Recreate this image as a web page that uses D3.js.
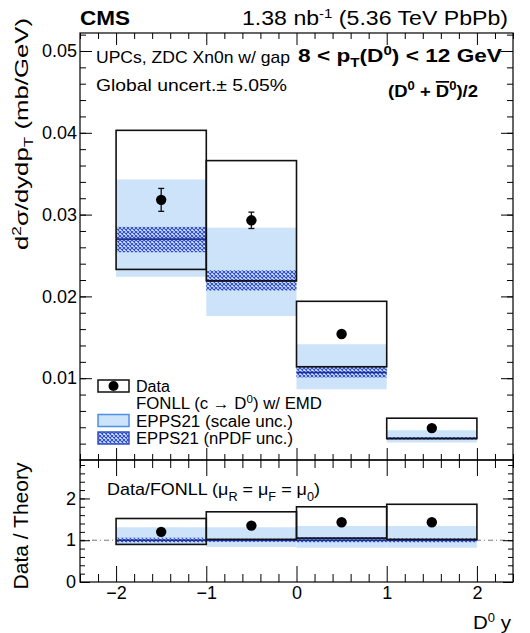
<!DOCTYPE html>
<html>
<head>
<meta charset="utf-8">
<script src="https://cdn.jsdelivr.net/npm/d3@7"></script>
<style>
  html, body { margin: 0; padding: 0; background: #fff; }
  svg text { font-family: "Liberation Sans", Arial, Helvetica, sans-serif; fill: #000; }
</style>
</head>
<body>
<svg id="chart" width="530" height="633"></svg>
<script>
// Rapidity bins of D0
const binLo = [-2, -1, 0, 1];
const binHi = [-1, 0, 1, 2];

// Measured cross section (mb/GeV) and stat. uncertainty
const dataVal = [0.0318, 0.0293, 0.0154, 0.0039];
const dataErr = [0.0014, 0.0010, 0.0004, 0.0002];

// FONLL w/ EMD band (open boxes)
const fonllLo = [0.0233, 0.0219, 0.0114, 0.00263];
const fonllHi = [0.0403, 0.0366, 0.0194, 0.00511];

// EPPS21 scale uncertainty band
const scaleLo = [0.0224, 0.0176, 0.00865, 0.00214];
const scaleHi = [0.0343, 0.0284, 0.01415, 0.00364];

// EPPS21 nPDF uncertainty band and central value
const npdfLo = [0.0254, 0.0207, 0.0101, 0.00250];
const npdfHi = [0.0285, 0.0232, 0.0114, 0.00278];
const npdfMid = [0.0270, 0.0219, 0.0107, 0.00263];

// Ratio panel: Data / FONLL
const ratioData = [1.20, 1.35, 1.43, 1.43];
const ratioBoxLo = [0.90, 1.02, 1.05, 1.02];
const ratioBoxHi = [1.52, 1.68, 1.80, 1.86];
const ratioScaleLo = [0.88, 0.84, 0.82, 0.82];
const ratioScaleHi = [1.31, 1.31, 1.34, 1.34];
const ratioNpdfLo = [0.95, 0.96, 0.95, 0.95];
const ratioNpdfHi = [1.06, 1.04, 1.07, 1.05];

// Axis ticks
const xMajor = [-2, -1, 0, 1, 2];
const yTopMajor = [0.01, 0.02, 0.03, 0.04, 0.05];
const yBotMajor = [0, 1, 2];

const lightBlue = "#cde3fa";
const hatchBlue = "#2f4fc4";
const lineBlue = "#1d2f93";

const svg = d3.select("#chart");
const L = 80, R = 513;
const topT = 33, topB = 460, botT = 460, botB = 582;

const x = d3.scaleLinear().domain([-2.4, 2.4]).range([L, R]);
const yTop = d3.scaleLinear().domain([0, 0.0522]).range([topB, topT]);
const yBot = d3.scaleLinear().domain([0, 2.92]).range([botB, botT]);

// cross-hatch pattern for the nPDF band
const defs = svg.append("defs");
const pat = defs.append("pattern").attr("id", "hatch")
  .attr("patternUnits", "userSpaceOnUse").attr("width", 4).attr("height", 4);
pat.append("rect").attr("width", 4).attr("height", 4).attr("fill", "#dbe6fb");
pat.append("path").attr("d", "M0,0L4,4M4,0L0,4")
  .attr("stroke", hatchBlue).attr("stroke-width", 1.1);

const idx = d3.range(binLo.length);

function drawPanel(g, y, sLo, sHi, nLo, nHi, nMid, bLo, bHi, pts, errs) {
  g.selectAll(".scale").data(idx).join("rect")
    .attr("x", i => x(binLo[i])).attr("width", i => x(binHi[i]) - x(binLo[i]))
    .attr("y", i => y(sHi[i])).attr("height", i => y(sLo[i]) - y(sHi[i]))
    .attr("fill", lightBlue);
  g.selectAll(".npdf").data(idx).join("rect")
    .attr("x", i => x(binLo[i])).attr("width", i => x(binHi[i]) - x(binLo[i]))
    .attr("y", i => y(nHi[i])).attr("height", i => y(nLo[i]) - y(nHi[i]))
    .attr("fill", "url(#hatch)");
  g.selectAll(".mid").data(idx).join("line")
    .attr("x1", i => x(binLo[i])).attr("x2", i => x(binHi[i]))
    .attr("y1", i => y(nMid[i])).attr("y2", i => y(nMid[i]))
    .attr("stroke", lineBlue).attr("stroke-width", 1.6);
  g.selectAll(".box").data(idx).join("rect")
    .attr("x", i => x(binLo[i])).attr("width", i => x(binHi[i]) - x(binLo[i]))
    .attr("y", i => y(bHi[i])).attr("height", i => y(bLo[i]) - y(bHi[i]))
    .attr("fill", "none").attr("stroke", "#111").attr("stroke-width", 1.6);
  if (errs) {
    const eb = g.selectAll(".err").data(idx).join("g");
    eb.append("line")
      .attr("x1", i => x((binLo[i] + binHi[i]) / 2)).attr("x2", i => x((binLo[i] + binHi[i]) / 2))
      .attr("y1", i => y(pts[i] - errs[i])).attr("y2", i => y(pts[i] + errs[i]))
      .attr("stroke", "#111").attr("stroke-width", 1.3);
    [-1, 1].forEach(s => {
      eb.append("line")
        .attr("x1", i => x((binLo[i] + binHi[i]) / 2) - 3).attr("x2", i => x((binLo[i] + binHi[i]) / 2) + 3)
        .attr("y1", i => y(pts[i] + s * errs[i])).attr("y2", i => y(pts[i] + s * errs[i]))
        .attr("stroke", "#111").attr("stroke-width", 1.3);
    });
  }
  g.selectAll(".pt").data(idx).join("circle")
    .attr("cx", i => x((binLo[i] + binHi[i]) / 2)).attr("cy", i => y(pts[i]))
    .attr("r", 5.2).attr("fill", "#000");
}

// ----- upper panel -----
const gTop = svg.append("g");
drawPanel(gTop, yTop, scaleLo, scaleHi, npdfLo, npdfHi, npdfMid, fonllLo, fonllHi, dataVal, dataErr);

// ----- ratio panel -----
const gBot = svg.append("g");
gBot.append("line").attr("x1", L).attr("x2", R)
  .attr("y1", yBot(1)).attr("y2", yBot(1))
  .attr("stroke", "#777").attr("stroke-width", 1).attr("stroke-dasharray", "5,3,1,3");
drawPanel(gBot, yBot, ratioScaleLo, ratioScaleHi, ratioNpdfLo, ratioNpdfHi,
  ratioNpdfLo.map(() => 1), ratioBoxLo, ratioBoxHi, ratioData, null);

// ----- axes: inward ticks on every side -----
function styleAxis(g, size) {
  g.select(".domain").remove();
  g.selectAll("line").attr("stroke", "#000").attr("stroke-width", 1);
  g.selectAll("text").style("font-size", (size || 18) + "px").attr("fill", "#000");
}
function ticksRange(a, b, step) {
  const out = [];
  for (let v = a; v <= b + 1e-9; v += step) out.push(+v.toFixed(6));
  return out;
}
const xMinor = ticksRange(-2.4, 2.4, 0.2).filter(v => Math.abs(v - Math.round(v)) > 1e-6);
const yTopMinor = ticksRange(0.002, 0.052, 0.002);
const yBotMinor = ticksRange(0.2, 2.8, 0.2);

function addAxis(gen, tx, ty, size) {
  const g = svg.append("g").attr("transform", `translate(${tx},${ty})`).call(gen);
  styleAxis(g, size);
  return g;
}

// upper panel
addAxis(d3.axisLeft(yTop).tickValues(yTopMinor).tickSize(-6).tickFormat(""), L, 0);
addAxis(d3.axisLeft(yTop).tickValues(yTopMajor).tickSize(-12).tickPadding(3).tickFormat(d3.format(".2f")), L, 0, 18);
addAxis(d3.axisRight(yTop).tickValues(yTopMinor).tickSize(-6).tickFormat(""), R, 0);
addAxis(d3.axisRight(yTop).tickValues(yTopMajor).tickSize(-12).tickFormat(""), R, 0);
addAxis(d3.axisTop(x).tickValues(xMinor).tickSize(-6).tickFormat(""), 0, topT);
addAxis(d3.axisTop(x).tickValues(xMajor).tickSize(-12).tickFormat(""), 0, topT);
addAxis(d3.axisBottom(x).tickValues(xMinor).tickSize(-6).tickFormat(""), 0, topB);
addAxis(d3.axisBottom(x).tickValues(xMajor).tickSize(-12).tickFormat(""), 0, topB);

// ratio panel
addAxis(d3.axisLeft(yBot).tickValues(yBotMinor).tickSize(-5).tickFormat(""), L, 0);
addAxis(d3.axisLeft(yBot).tickValues(yBotMajor).tickSize(-10).tickPadding(4).tickFormat(d3.format("d")), L, 0, 18);
addAxis(d3.axisRight(yBot).tickValues(yBotMinor).tickSize(-5).tickFormat(""), R, 0);
addAxis(d3.axisRight(yBot).tickValues(yBotMajor).tickSize(-10).tickFormat(""), R, 0);
addAxis(d3.axisTop(x).tickValues(xMinor).tickSize(-8).tickFormat(""), 0, botT);
addAxis(d3.axisTop(x).tickValues(xMajor).tickSize(-16).tickFormat(""), 0, botT);
addAxis(d3.axisBottom(x).tickValues(xMinor).tickSize(-8).tickFormat(""), 0, botB);
addAxis(d3.axisBottom(x).tickValues(xMajor).tickSize(-16).tickPadding(4)
  .tickFormat(d => d < 0 ? "\u2212" + Math.abs(d) : d), 0, botB, 18);

// frames
[[topT, topB], [botT, botB]].forEach(([a, b]) => {
  svg.append("rect").attr("x", L).attr("y", a).attr("width", R - L).attr("height", b - a)
    .attr("fill", "none").attr("stroke", "#000").attr("stroke-width", 1.2);
});

// ----- text -----
function txt(xp, yp, size, anchor, weight, len) {
  const t = svg.append("text").attr("x", xp).attr("y", yp)
    .attr("text-anchor", anchor || "start")
    .style("font-size", size + "px").style("font-weight", weight || "normal");
  if (len) t.attr("textLength", len).attr("lengthAdjust", "spacingAndGlyphs");
  return t;
}
txt(L, 25, 20, "start", "bold", 50).text("CMS");
{
  const t = txt(508, 25, 20, "end", null, 266);
  t.append("tspan").text("1.38 nb");
  t.append("tspan").attr("dy", -7).style("font-size", "13px").text("-1");
  t.append("tspan").attr("dy", 7).text(" (5.36 TeV PbPb)");
}
txt(96, 62.5, 17, "start", null, 194).text("UPCs, ZDC Xn0n w/ gap");
txt(96, 90.5, 17, "start", null, 191).text("Global uncert.\u00b1 5.05%");
{
  const t = txt(502, 62, 18, "end", "bold", 204);
  t.append("tspan").text("8 < p");
  t.append("tspan").attr("dy", 5).style("font-size", "12px").text("T");
  t.append("tspan").attr("dy", -5).text("(D");
  t.append("tspan").attr("dy", -7).style("font-size", "12px").text("0");
  t.append("tspan").attr("dy", 7).text(") < 12 GeV");
}
{
  const t = txt(478, 97, 17, "end", "bold", 90);
  t.append("tspan").text("(D");
  t.append("tspan").attr("dy", -7).style("font-size", "12px").text("0");
  t.append("tspan").attr("dy", 7).text(" + ");
  t.append("tspan").style("text-decoration", "overline").text("D");
  t.append("tspan").attr("dy", -7).style("font-size", "12px").text("0");
  t.append("tspan").attr("dy", 7).text(")/2");
}

// y titles
{
  const t = svg.append("text").attr("transform", "translate(28,134) rotate(-90)")
    .attr("text-anchor", "middle").style("font-size", "18px")
    .attr("textLength", 232).attr("lengthAdjust", "spacingAndGlyphs");
  t.append("tspan").text("d");
  t.append("tspan").attr("dy", -7).style("font-size", "12px").text("2");
  t.append("tspan").attr("dy", 7).text("\u03c3/dydp");
  t.append("tspan").attr("dy", 5).style("font-size", "12px").text("T");
  t.append("tspan").attr("dy", -5).text(" (mb/GeV)");
}
svg.append("text").attr("transform", "translate(28,526) rotate(-90)")
  .attr("text-anchor", "middle").style("font-size", "20px")
  .attr("textLength", 127).attr("lengthAdjust", "spacingAndGlyphs").text("Data / Theory");
{
  const t = txt(511, 629, 19, "end", null, 38);
  t.append("tspan").text("D");
  t.append("tspan").attr("dy", -7).style("font-size", "12px").text("0");
  t.append("tspan").attr("dy", 7).text(" y");
}
{
  const t = txt(107, 495, 17, "start", null, 213);
  t.append("tspan").text("Data/FONLL (\u03bc");
  t.append("tspan").attr("dy", 6).style("font-size", "12px").text("R");
  t.append("tspan").attr("dy", -6).text(" = \u03bc");
  t.append("tspan").attr("dy", 6).style("font-size", "12px").text("F");
  t.append("tspan").attr("dy", -6).text(" = \u03bc");
  t.append("tspan").attr("dy", 6).style("font-size", "12px").text("0");
  t.append("tspan").attr("dy", -6).text(")");
}

// ----- legend -----
const legX = 98, legW = 31, legH = 12, legTx = 136;
const legY = [386, 403, 420.5, 438];
svg.append("rect").attr("x", legX).attr("y", legY[0] - legH / 2).attr("width", legW).attr("height", legH)
  .attr("fill", "none").attr("stroke", "#111").attr("stroke-width", 1.5);
svg.append("circle").attr("cx", legX + legW / 2).attr("cy", legY[0]).attr("r", 5).attr("fill", "#000");
svg.append("rect").attr("x", legX).attr("y", legY[2] - legH / 2).attr("width", legW).attr("height", legH)
  .attr("fill", lightBlue).attr("stroke", "#4d8fe6").attr("stroke-width", 1.5);
svg.append("rect").attr("x", legX).attr("y", legY[3] - legH / 2).attr("width", legW).attr("height", legH)
  .attr("fill", "url(#hatch)").attr("stroke", hatchBlue).attr("stroke-width", 1.5);
txt(legTx, legY[0] + 6, 16, "start", null, 34).text("Data");
{
  const t = txt(legTx, legY[1] + 6, 16, "start", null, 186);
  t.append("tspan").text("FONLL (c \u2192 D");
  t.append("tspan").attr("dy", -6).style("font-size", "11px").text("0");
  t.append("tspan").attr("dy", 6).text(") w/ EMD");
}
txt(legTx, legY[2] + 6, 16, "start", null, 157).text("EPPS21 (scale unc.)");
txt(legTx, legY[3] + 6, 16, "start", null, 157).text("EPPS21 (nPDF unc.)");
</script>
</body>
</html>
